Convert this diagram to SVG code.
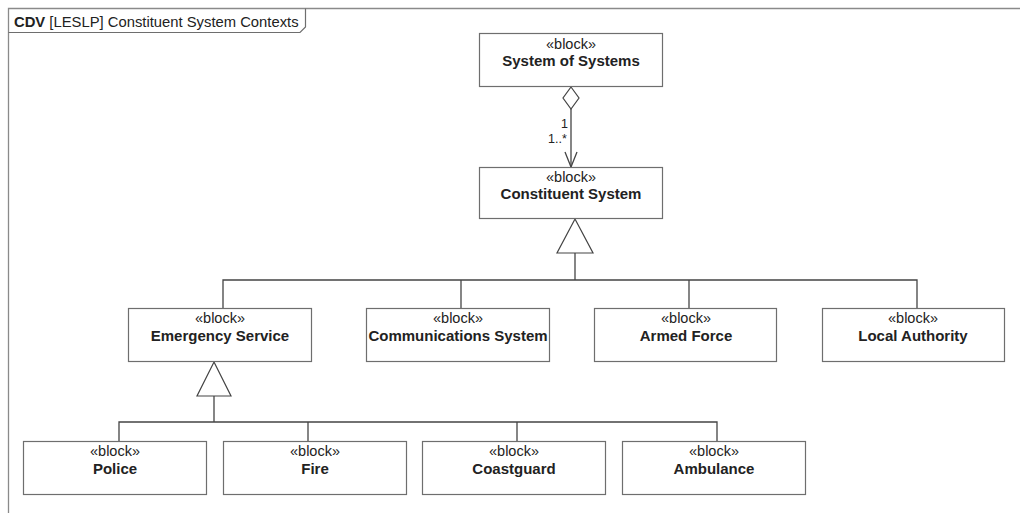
<svg xmlns="http://www.w3.org/2000/svg" width="1020" height="513" viewBox="0 0 1020 513">
<style>
.box{fill:#fff;stroke:#6e6e6e;stroke-width:1.2}
.st{font-family:"Liberation Sans",Arial,sans-serif;font-size:14.5px;fill:#222;text-anchor:middle}
.nm{font-family:"Liberation Sans",Arial,sans-serif;font-size:15px;font-weight:bold;fill:#222;text-anchor:middle}
.ln{fill:none;stroke:#444;stroke-width:1.3}
.hd{fill:#fff;stroke:#444;stroke-width:1.2}
.lb{font-family:"Liberation Sans",Arial,sans-serif;font-size:12.5px;fill:#222}
</style>
<rect width="1020" height="513" fill="#fff"/>
<g id="frame">
<path d="M8.5 513 V8.5 H1020" fill="none" stroke="#8a8a8a" stroke-width="1.3"/>
<path d="M8.5 32.5 H300 L305.5 27 V8.5" fill="none" stroke="#6e6e6e" stroke-width="1.2"/>
<text x="14" y="26.5" font-family="Liberation Sans, Arial, sans-serif" font-size="14.8" fill="#222"><tspan font-weight="bold">CDV</tspan> [LESLP] Constituent System Contexts</text>
</g>
<g id="connectors">
<line class="ln" x1="571" y1="109" x2="571" y2="167"/>
<polygon class="hd" points="571,87 579,98 571,109 563,98"/>
<polyline class="ln" points="565,152 571,167 577,152"/>
<text class="lb" x="561" y="128">1</text>
<text class="lb" x="548" y="143">1..*</text>
<polyline class="ln" points="223,308 223,280 917,280 917,308"/>
<line class="ln" x1="461" y1="280" x2="461" y2="308"/>
<line class="ln" x1="689" y1="280" x2="689" y2="308"/>
<line class="ln" x1="575" y1="253" x2="575" y2="280"/>
<polygon class="hd" points="575,219 593,253 557,253"/>
<polyline class="ln" points="119,441 119,422 717,422 717,441"/>
<line class="ln" x1="308" y1="422" x2="308" y2="441"/>
<line class="ln" x1="517" y1="422" x2="517" y2="441"/>
<line class="ln" x1="214" y1="396" x2="214" y2="422"/>
<polygon class="hd" points="214,362 231,396 197,396"/>
</g>
<g id="sos"><rect class="box" x="479.5" y="33.5" width="183" height="53"/><text class="st" x="571" y="49">«block»</text><text class="nm" x="571" y="66">System of Systems</text></g>
<g id="cs"><rect class="box" x="479.5" y="167.5" width="183" height="51"/><text class="st" x="571" y="182">«block»</text><text class="nm" x="571" y="199">Constituent System</text></g>
<g id="es"><rect class="box" x="128.5" y="308.5" width="183" height="53"/><text class="st" x="220" y="323">«block»</text><text class="nm" x="220" y="341">Emergency Service</text></g>
<g id="comm"><rect class="box" x="366.5" y="308.5" width="183" height="53"/><text class="st" x="458" y="323">«block»</text><text class="nm" x="458" y="341">Communications System</text></g>
<g id="af"><rect class="box" x="594.5" y="308.5" width="182" height="53"/><text class="st" x="686" y="323">«block»</text><text class="nm" x="686" y="341">Armed Force</text></g>
<g id="la"><rect class="box" x="822.5" y="308.5" width="182" height="53"/><text class="st" x="913" y="323">«block»</text><text class="nm" x="913" y="341">Local Authority</text></g>
<g id="police"><rect class="box" x="23.5" y="441.5" width="183" height="53"/><text class="st" x="115" y="456">«block»</text><text class="nm" x="115" y="474">Police</text></g>
<g id="fire"><rect class="box" x="223.5" y="441.5" width="183" height="53"/><text class="st" x="315" y="456">«block»</text><text class="nm" x="315" y="474">Fire</text></g>
<g id="coast"><rect class="box" x="422.5" y="441.5" width="183" height="53"/><text class="st" x="514" y="456">«block»</text><text class="nm" x="514" y="474">Coastguard</text></g>
<g id="amb"><rect class="box" x="622.5" y="441.5" width="183" height="53"/><text class="st" x="714" y="456">«block»</text><text class="nm" x="714" y="474">Ambulance</text></g>
</svg>
